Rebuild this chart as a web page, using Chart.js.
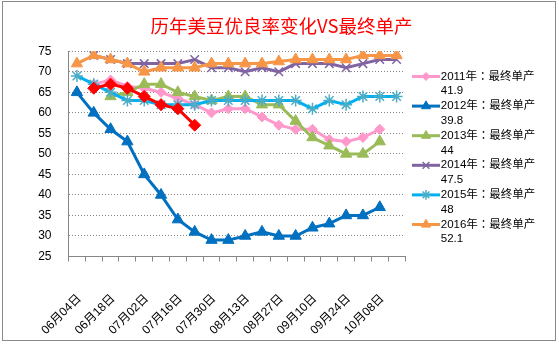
<!DOCTYPE html>
<html><head><meta charset="utf-8">
<script src="https://cdn.jsdelivr.net/npm/chart.js@4/dist/chart.umd.min.js"></script>
<style>html,body{margin:0;padding:0;background:#fff}canvas{display:block}</style>
</head><body>
<canvas id="c" width="559" height="344"></canvas>
<script>
// ---- data ----
const titleText = '历年美豆优良率变化VS最终单产';
const categories = ['06月04日','06月11日','06月18日','06月25日','07月02日','07月09日','07月16日','07月23日','07月30日','08月06日',
                    '08月13日','08月20日','08月27日','09月03日','09月10日','09月17日','09月24日','10月01日','10月08日','10月15日'];
const tickEvery = 2;
const seriesNames = ['2011年：最终单产','2012年：最终单产','2013年：最终单产','2014年：最终单产','2015年：最终单产','2016年：最终单产'];
const finalYields = ['41.9','39.8','44','47.5','48','52.1'];
const currentName = '2017年';
const s2011 = [null,67,68,66.5,66,65,63.5,62,60,61,61,59,57,56,56,53.5,53,54,56,null];
const s2012 = [65,60,56,53,45,40,34,31,29,29,30,31,30,30,32,33,35,35,37,null];
const s2013 = [null,null,64,65,67,67,65,64,63,64,64,62,62,58,54,52,50,50,53,null];
const s2014 = [null,74,73,72,72,72,72,73,71,71,70,71,70,72,72,72,71,72,73,73];
const s2015 = [69,67,65,63,63,62,62,62,63,63,63,63,63,63,61,63,62,64,64,64];
const s2016 = [72,74,73,72,70,71,71,71,72,72,72,72,72.5,73,73,73,73,74,74,74];
const s2017 = [null,66,67,66,64,62,61,57,null,null,null,null,null,null,null,null,null,null,null,null];
const yMin = 25, yMax = 75, yStep = 5;

// ---- styles ----
const seriesValues = [s2011, s2012, s2013, s2014, s2015, s2016, s2017];
const lineColors  = ['#FF99CC','#0070C0','#9BBB59','#8064A2','#00B0F0','#F79646','#FF0000'];
const markColors  = ['#FF99CC','#0070C0','#9BBB59','#8064A2','#4BACC6','#F79646','#FF0000'];
const markStyles  = ['rectRot','triangle','triangle','crossRot','star','triangle','rectRot'];
const markRadius  = [5,6.5,6.5,6,6,6.5,6];
const labels = seriesNames.concat([currentName]);

const datasets = seriesValues.map((vals, i) => ({
  label: labels[i],
  data: vals,
  borderColor: lineColors[i],
  backgroundColor: lineColors[i],
  borderWidth: 3,
  pointStyle: markStyles[i],
  pointRadius: markRadius[i],
  pointBackgroundColor: markColors[i],
  pointBorderColor: markColors[i],
  pointBorderWidth: (markStyles[i] === 'crossRot' || markStyles[i] === 'star') ? 1.5 : 1,
  tension: 0,
  spanGaps: false,
  order: 20 - i
}));

const frame = {
  id: 'frame',
  beforeDraw(chart) {
    const ctx = chart.ctx;
    ctx.save();
    ctx.fillStyle = '#fff';
    ctx.fillRect(0, 0, chart.width, chart.height);
    ctx.strokeStyle = '#8a8a8a';
    ctx.lineWidth = 1;
    ctx.strokeRect(2.5, 1.5, 553, 339);
    ctx.restore();
  }
};

const legendSymbols = {
  id: 'legendSymbols',
  afterDraw(chart) {
    const lg = chart.legend;
    if (!lg || !lg.legendHitBoxes) return;
    const ctx = chart.ctx;
    lg.legendItems.forEach((item, i) => {
      const hb = lg.legendHitBoxes[i];
      const ds = chart.data.datasets[item.datasetIndex];
      const y = hb.top + 6;
      const x0 = hb.left + 7, x1 = hb.left + 35;
      ctx.save();
      ctx.strokeStyle = ds.borderColor;
      ctx.lineWidth = 3;
      ctx.beginPath(); ctx.moveTo(x0, y); ctx.lineTo(x1, y); ctx.stroke();
      ctx.fillStyle = ds.pointBackgroundColor;
      ctx.strokeStyle = ds.pointBorderColor;
      ctx.lineWidth = ds.pointBorderWidth;
      Chart.helpers.drawPoint(ctx, {pointStyle: ds.pointStyle, radius: ds.pointRadius * 0.8, borderWidth: ds.pointBorderWidth, rotation: 0}, (x0 + x1) / 2, y);
      ctx.restore();
    });
  }
};

new Chart(document.getElementById('c'), {
  type: 'line',
  data: { labels: categories, datasets },
  plugins: [frame, legendSymbols],
  options: {
    responsive: false,
    animation: false,
    events: [],
    layout: { padding: { left: 28, right: 24, top: 0, bottom: 0 } },
    plugins: {
      title: {
        display: true, text: titleText, color: '#FF0000',
        font: { family: "'Noto Sans CJK SC', sans-serif", size: 18.5, weight: 'normal', lineHeight: 1.2 },
        padding: { top: 15, bottom: 14.1 }
      },
      legend: {
        display: true, position: 'right', align: 'start', fullSize: false, maxWidth: 130,
        title: { display: true, text: '', font: { size: 10, lineHeight: '19.2px' }, padding: 0 },
        labels: {
          padding: 0, boxWidth: 30, boxHeight: 12, color: '#000',
          font: { family: "'Liberation Sans', 'Noto Sans CJK TC', 'Noto Sans CJK SC', sans-serif", size: 11.5, lineHeight: '14.8px' },
          sort: (a, b) => a.datasetIndex - b.datasetIndex,
          generateLabels: (chart) => chart.data.datasets
            .map((ds, i) => ({ text: [seriesNames[i], finalYields[i]], fillStyle: 'rgba(0,0,0,0)', strokeStyle: 'rgba(0,0,0,0)', lineWidth: 0, hidden: false, datasetIndex: i, fontColor: '#000' }))
            .filter(it => it.datasetIndex < seriesNames.length)
        }
      },
      tooltip: { enabled: false }
    },
    scales: {
      x: {
        type: 'category', offset: true,
        grid: { offset: true, drawOnChartArea: false, drawTicks: true, tickLength: 5, tickColor: '#868686' },
        border: { display: true, color: '#868686', width: 1 },
        ticks: {
          autoSkip: false, maxRotation: 45, minRotation: 45, padding: 30, labelOffset: 2.5, color: '#000',
          font: { family: "'Liberation Sans', 'Noto Sans CJK SC', sans-serif", size: 12 },
          callback: function (v, i) { return i % tickEvery === 0 ? this.getLabelForValue(v) : ''; }
        },
        afterFit: (s) => { s.height = 87.5; }
      },
      y: {
        min: yMin, max: yMax,
        grid: { drawTicks: false, color: '#868686', lineWidth: 1 },
        border: { display: true, color: '#868686', width: 1, dash: [1, 2] },
        ticks: { stepSize: yStep, padding: 17, color: '#000', font: { family: "'Liberation Sans', sans-serif", size: 12 } },
        afterFit: (s) => { s.width = 40.5; }
      }
    }
  }
});
</script>
</body></html>
